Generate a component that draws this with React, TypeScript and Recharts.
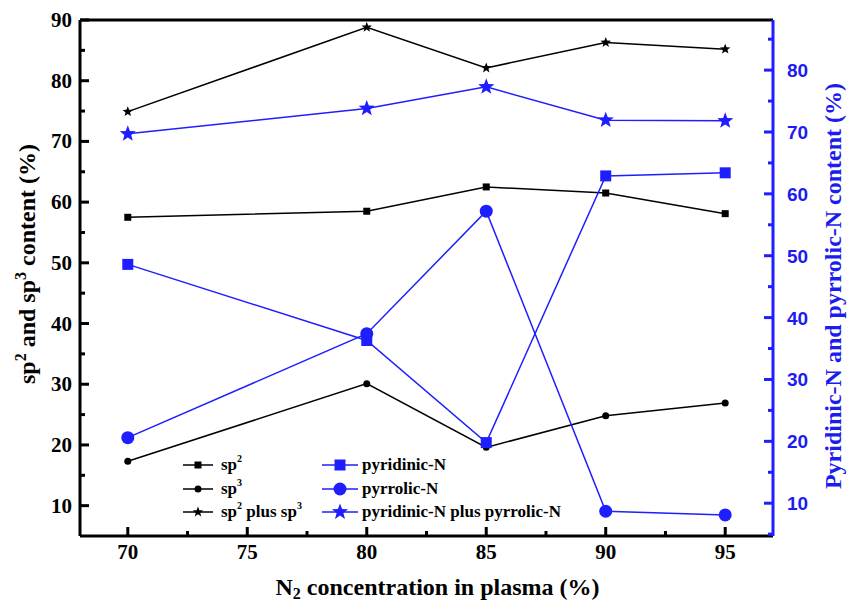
import React from 'react';
import { LineChart, Line, XAxis, YAxis, ReferenceLine } from 'recharts';

// N2 concentration in the plasma (%)
const N2 = [70, 80, 85, 90, 95];

// carbon hybridisation (left axis, %)
const SP2 = [57.5, 58.5, 62.5, 61.5, 58.1];
const SP3 = [17.3, 30.1, 19.6, 24.8, 26.9];
const SP2_PLUS_SP3 = [74.9, 88.8, 82.1, 86.3, 85.2];

// nitrogen bonding (right axis, %)
const PYRIDINIC = [48.6, 36.3, 19.8, 62.9, 63.4];
const PYRROLIC = [20.6, 37.4, 57.2, 8.7, 8.1];
const PYRIDINIC_PLUS_PYRROLIC = [69.7, 73.8, 77.3, 71.9, 71.8];

const X_TICKS = [70, 72.5, 75, 77.5, 80, 82.5, 85, 87.5, 90, 92.5, 95];
const LEFT_TICKS = [10, 15, 20, 25, 30, 35, 40, 45, 50, 55, 60, 65, 70, 75, 80, 85, 90];
const RIGHT_TICKS = [5, 10, 15, 20, 25, 30, 35, 40, 45, 50, 55, 60, 65, 70, 75, 80, 85];

const BLUE = '#1e1eff';
const BLUE_TEXT = '#1c1cf0';
const SERIF = '"Liberation Serif", "Times New Roman", serif';
const SANS = '"Liberation Sans", Arial, sans-serif';

const data = N2.map((x, i) => ({
  x,
  sp2: SP2[i],
  sp3: SP3[i],
  spSum: SP2_PLUS_SP3[i],
  pyridinic: PYRIDINIC[i],
  pyrrolic: PYRROLIC[i],
  nSum: PYRIDINIC_PLUS_PYRROLIC[i],
}));

type Shape = 'square' | 'circle' | 'star';

function starPath(cx: number, cy: number, r: number) {
  const pts: string[] = [];
  for (let i = 0; i < 10; i++) {
    const rad = i % 2 === 0 ? r : r * 0.42;
    const a = -Math.PI / 2 + (i * Math.PI) / 5;
    pts.push(`${cx + rad * Math.cos(a)},${cy + rad * Math.sin(a)}`);
  }
  return 'M' + pts.join('L') + 'Z';
}

function Marker({ cx, cy, shape, size, color }: { cx: number; cy: number; shape: Shape; size: number; color: string }) {
  if (shape === 'square') {
    return <rect x={cx - size / 2} y={cy - size / 2} width={size} height={size} fill={color} />;
  }
  if (shape === 'circle') return <circle cx={cx} cy={cy} r={size / 2} fill={color} />;
  return <path d={starPath(cx, cy, size / 2)} fill={color} />;
}

const Sup = ({ children }: { children: React.ReactNode }) => (
  <sup style={{ fontSize: 10, verticalAlign: 'top', position: 'relative', top: -2 }}>{children}</sup>
);

interface Series {
  key: string;
  axis: 'left' | 'right';
  color: string;
  shape: Shape;
  size: number;
  label: React.ReactNode;
}

const SERIES: Series[] = [
  { key: 'sp2', axis: 'left', color: '#000', shape: 'square', size: 7, label: <>sp<Sup>2</Sup></> },
  { key: 'sp3', axis: 'left', color: '#000', shape: 'circle', size: 7, label: <>sp<Sup>3</Sup></> },
  { key: 'spSum', axis: 'left', color: '#000', shape: 'star', size: 11, label: <>sp<Sup>2</Sup> plus sp<Sup>3</Sup></> },
  { key: 'pyridinic', axis: 'right', color: BLUE, shape: 'square', size: 11, label: 'pyridinic-N' },
  { key: 'pyrrolic', axis: 'right', color: BLUE, shape: 'circle', size: 13, label: 'pyrrolic-N' },
  { key: 'nSum', axis: 'right', color: BLUE, shape: 'star', size: 17, label: 'pyridinic-N plus pyrrolic-N' },
];

// ticks point into the plot; minor ticks carry no label
function LeftTick({ x, y, payload }: any) {
  const v = payload.value;
  const major = v % 10 === 0;
  const ax = x + 8;
  return (
    <g>
      <line x1={ax} x2={ax + (major ? 9 : 5)} y1={y} y2={y} stroke="#000" strokeWidth={3} />
      {major && (
        <text x={x} y={y} dy={7} textAnchor="end" fontFamily={SERIF} fontWeight="bold" fontSize={21} fill="#000">
          {v}
        </text>
      )}
    </g>
  );
}

function RightTick({ x, y, payload }: any) {
  const v = payload.value;
  const major = v % 10 === 0;
  const ax = x - 14;
  return (
    <g>
      <line x1={ax} x2={ax - (major ? 9 : 5)} y1={y} y2={y} stroke={BLUE} strokeWidth={3} />
      {major && (
        <text x={x} y={y} dy={7} textAnchor="start" fontFamily={SANS} fontWeight="bold" fontSize={19} fill={BLUE_TEXT}>
          {v}
        </text>
      )}
    </g>
  );
}

function BottomTick({ x, y, payload }: any) {
  const v = payload.value;
  const major = Number.isInteger(v);
  const ay = y - 16;
  return (
    <g>
      <line x1={x} x2={x} y1={ay} y2={ay - (major ? 9 : 5)} stroke="#000" strokeWidth={3} />
      {major && (
        <text x={x} y={y} dy={7} textAnchor="middle" fontFamily={SERIF} fontWeight="bold" fontSize={21} fill="#000">
          {v}
        </text>
      )}
    </g>
  );
}

function LeftTitle({ viewBox }: any) {
  const cx = viewBox.x + 35;
  const cy = viewBox.y + viewBox.height / 2 - 14;
  return (
    <text x={cx} y={cy} transform={`rotate(-90, ${cx}, ${cy})`} textAnchor="middle" fontFamily={SERIF} fontWeight="bold" fontSize={24} fill="#000">
      sp<tspan dy={-9} fontSize={16}>2</tspan>
      <tspan dy={9}> and sp</tspan>
      <tspan dy={-9} fontSize={16}>3</tspan>
      <tspan dy={9}> content (%)</tspan>
    </text>
  );
}

function RightTitle({ viewBox }: any) {
  const cx = viewBox.x + 68;
  const cy = viewBox.y + viewBox.height / 2 + 8;
  return (
    <text x={cx} y={cy} transform={`rotate(-90, ${cx}, ${cy})`} textAnchor="middle" fontFamily={SERIF} fontWeight="bold" fontSize={24} fill={BLUE_TEXT}>
      Pyridinic-N and pyrrolic-N content (%)
    </text>
  );
}

function BottomTitle({ viewBox }: any) {
  const cx = viewBox.x + viewBox.width / 2 + 11;
  const cy = viewBox.y + 59;
  return (
    <text x={cx} y={cy} textAnchor="middle" fontFamily={SERIF} fontWeight="bold" fontSize={24} fill="#000">
      N<tspan dy={4} fontSize={16}>2</tspan>
      <tspan dy={-4}> concentration in plasma (%)</tspan>
    </text>
  );
}

// two-column legend drawn over the lower-left of the plot
const LEGEND_COLS = [
  { left: 183, lineW: 30, gap: 8 },
  { left: 322, lineW: 36, gap: 4 },
];
const LEGEND_ROWS = [465, 489, 512];

function ChartLegend() {
  return (
    <>
      {SERIES.map((s, i) => {
        const col = LEGEND_COLS[s.axis === 'left' ? 0 : 1];
        const rowY = LEGEND_ROWS[i % 3];
        return (
          <div
            key={s.key}
            style={{
              position: 'absolute',
              left: col.left,
              top: rowY - 10,
              height: 20,
              display: 'flex',
              alignItems: 'center',
              whiteSpace: 'nowrap',
              fontFamily: SERIF,
              fontWeight: 'bold',
              fontSize: 17,
              color: '#000',
            }}
          >
            <svg width={col.lineW} height={20}>
              <line x1={0} x2={col.lineW} y1={10} y2={10} stroke={s.color} strokeWidth={1.5} />
              <Marker cx={col.lineW / 2} cy={10} shape={s.shape} size={s.size} color={s.color} />
            </svg>
            <span style={{ marginLeft: col.gap }}>{s.label}</span>
          </div>
        );
      })}
    </>
  );
}

export default function App() {
  return (
    <div style={{ position: 'absolute', left: 0, top: 0, width: 850, height: 603, background: '#fff' }}>
      <LineChart width={850} height={603} data={data} margin={{ top: 20, right: 0, bottom: 0, left: 0 }}>
        <XAxis
          dataKey="x"
          type="number"
          domain={[68, 97]}
          ticks={X_TICKS}
          interval={0}
          height={67}
          tickSize={0}
          tickMargin={16}
          tick={<BottomTick />}
          axisLine={{ stroke: '#000', strokeWidth: 3 }}
          label={{ content: (p: any) => <BottomTitle {...p} /> }}
        />
        <YAxis
          yAxisId="left"
          type="number"
          domain={[5, 90]}
          ticks={LEFT_TICKS}
          interval={0}
          width={80}
          tickSize={0}
          tickMargin={8}
          tick={<LeftTick />}
          axisLine={{ stroke: '#000', strokeWidth: 3 }}
          label={{ content: (p: any) => <LeftTitle {...p} /> }}
        />
        <YAxis
          yAxisId="right"
          orientation="right"
          type="number"
          domain={[4.7, 88.1]}
          ticks={RIGHT_TICKS}
          interval={0}
          width={77}
          tickSize={0}
          tickMargin={14}
          tick={<RightTick />}
          axisLine={{ stroke: BLUE, strokeWidth: 3 }}
          label={{ content: (p: any) => <RightTitle {...p} /> }}
        />
        <ReferenceLine yAxisId="left" y={90} stroke="#000" strokeWidth={3} />
        {SERIES.map((s) => (
          <Line
            key={s.key}
            yAxisId={s.axis}
            dataKey={s.key}
            type="linear"
            stroke={s.color}
            strokeWidth={1.5}
            isAnimationActive={false}
            activeDot={false}
            dot={(p: any) => (
              <Marker key={`${s.key}-${p.index}`} cx={p.cx} cy={p.cy} shape={s.shape} size={s.size} color={s.color} />
            )}
          />
        ))}
      </LineChart>
      <ChartLegend />
    </div>
  );
}
